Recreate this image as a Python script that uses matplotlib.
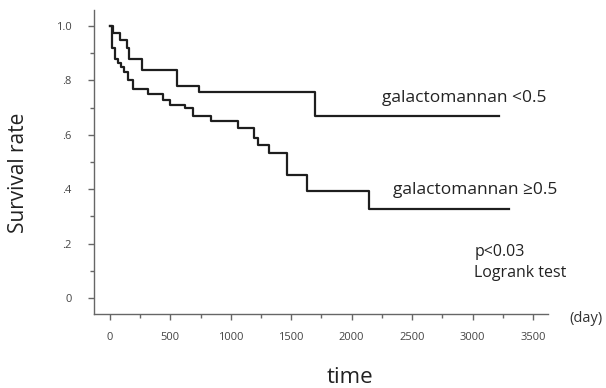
import numpy as np
import matplotlib.pyplot as plt
from matplotlib.ticker import MultipleLocator

# galactomannan <0.5 : step times (day) and survival after each step
low_t = [0, 25, 85, 140, 155, 264, 554, 736, 1696, 3217]
low_s = [1.0, 0.974, 0.95, 0.92, 0.88, 0.84, 0.78, 0.757, 0.668, 0.668]

# galactomannan >=0.5
high_t = [0, 15, 41, 65, 90, 115, 150, 190, 314, 440, 500, 620, 690,
          833, 1056, 1194, 1222, 1318, 1466, 1628, 2142, 3300]
high_s = [1.0, 0.92, 0.88, 0.865, 0.85, 0.83, 0.80, 0.77, 0.75, 0.728,
          0.709, 0.698, 0.668, 0.65, 0.624, 0.59, 0.562, 0.533, 0.451,
          0.394, 0.326, 0.326]

yticks = [0, 0.2, 0.4, 0.6, 0.8, 1.0]
ylabels = ['0', '.2', '.4', '.6', '.8', '1.0']
xticks = [0, 500, 1000, 1500, 2000, 2500, 3000, 3500]

plt.rcParams['font.family'] = ['Open Sans', 'DejaVu Sans']

fig = plt.figure(figsize=(6.06, 3.88), dpi=100)
ax = fig.add_axes([0.155, 0.191, 0.749, 0.783])

lc = '#1e1e1e'
ax.step(low_t, low_s, where='post', color=lc, lw=1.6)
ax.step(high_t, high_s, where='post', color=lc, lw=1.6)

ax.set_xlim(-132, 3623)
ax.set_ylim(-0.059, 1.059)

for s in ['top', 'right']:
    ax.spines[s].set_visible(False)
for s in ['left', 'bottom']:
    ax.spines[s].set_color('#666666')
    ax.spines[s].set_linewidth(1.0)

ax.set_yticks(yticks)
ax.set_yticklabels(ylabels)
ax.set_xticks(xticks)
ax.yaxis.set_minor_locator(MultipleLocator(0.1))
ax.xaxis.set_minor_locator(MultipleLocator(250))
ax.tick_params(which='major', direction='out', length=4, width=1,
               color='#666666', labelsize=8, labelcolor='#444444')
ax.tick_params(which='minor', direction='out', length=3, width=1,
               color='#666666')
ax.tick_params(axis='x', which='major', pad=9)
ax.tick_params(axis='y', which='major', pad=12)

fig.text(0.03, 0.554, 'Survival rate', rotation=90, fontsize=15,
         ha='center', va='center', color='#222222')
fig.text(0.578, 0.026, 'time', fontsize=16, ha='center', va='center',
         color='#222222')
fig.text(0.939, 0.18, '(day)', fontsize=10.5, ha='left', va='center',
         color='#333333')

fig.text(0.63, 0.748, 'galactomannan <0.5', fontsize=12.5, ha='left',
         va='center', color='#222222')
fig.text(0.648, 0.51, 'galactomannan \u22650.5', fontsize=12.5, ha='left',
         va='center', color='#222222')
fig.text(0.783, 0.35, 'p<0.03', fontsize=11.5, ha='left', va='center',
         color='#222222')
fig.text(0.783, 0.296, 'Logrank test', fontsize=11.5, ha='left',
         va='center', color='#222222')

fig.savefig('out.png', dpi=100)
